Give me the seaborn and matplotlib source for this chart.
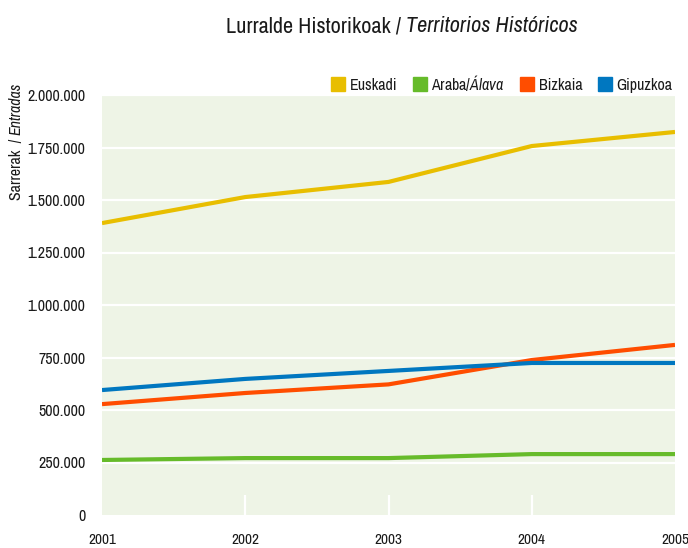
import matplotlib
matplotlib.use("Agg")
import matplotlib.pyplot as plt
import matplotlib.ticker as mticker
from matplotlib.lines import Line2D
import pandas as pd
import seaborn as sns

years = [2001, 2002, 2003, 2004, 2005]
euskadi = [1390000, 1514000, 1586000, 1757000, 1824000]
araba = [262000, 271000, 271000, 290000, 290000]
bizkaia = [528000, 581000, 622000, 738000, 810000]
gipuzkoa = [595000, 648000, 686000, 724000, 724000]

regions = ["Euskadi", "Araba/Álava", "Bizkaia", "Gipuzkoa"]
labels = ["Euskadi", r"Araba/$\it{Álava}$", "Bizkaia", "Gipuzkoa"]
colors = ["#E8BE00", "#66BB2A", "#FF4D00", "#0077C0"]
y_ticks = [0, 250000, 500000, 750000, 1000000, 1250000, 1500000, 1750000, 2000000]

df = pd.DataFrame({
    "year": years * 4,
    "value": euskadi + araba + bizkaia + gipuzkoa,
    "region": [r for r in regions for _ in years],
})

sns.set_theme(style="white")
plt.rcParams["font.family"] = ["Archivo Narrow", "Barlow Condensed", "DejaVu Sans"]
plt.rcParams["mathtext.fontset"] = "custom"
plt.rcParams["mathtext.rm"] = "Archivo Narrow"
plt.rcParams["mathtext.it"] = "Archivo Narrow:italic"
txt_col = "#1a1a1a"

fig = plt.figure(figsize=(6.88, 5.48), dpi=100)
ax = fig.add_axes([102 / 688, 33 / 548, 573 / 688, 420 / 548])
ax.set_facecolor("#EEF4E6")

for y in y_ticks[1:]:
    ax.axhline(y, color="white", lw=1.6, zorder=1)
for x in years[1:-1]:
    ax.axvline(x, ymin=0, ymax=0.048, color="white", lw=1.6, zorder=1)

sns.lineplot(data=df, x="year", y="value", hue="region", palette=dict(zip(regions, colors)),
             linewidth=3, ax=ax, legend=False, zorder=3)
for ln in ax.lines:
    ln.set_solid_capstyle("butt")

ax.set_xlim(2001, 2005)
ax.set_ylim(0, 2000000)
ax.set_xticks(years)
ax.set_yticks(y_ticks)
ax.yaxis.set_major_formatter(mticker.FuncFormatter(lambda v, p: f"{v:,.0f}".replace(",", ".")))
ax.tick_params(axis="both", length=0, labelsize=11.5, colors=txt_col)
ax.tick_params(axis="x", pad=13, labelsize=11)
ax.tick_params(axis="y", pad=12)
ax.set_xlabel("")
ax.set_ylabel("")
for s in ax.spines.values():
    s.set_visible(False)

handles = [Line2D([], [], marker="s", color=c, linestyle="", markersize=10) for c in colors]
ax.legend(handles, labels, loc="lower right", bbox_to_anchor=(1.0, 1.0), ncol=4, frameon=False,
          fontsize=11.5, handletextpad=0.25, columnspacing=1.0, borderaxespad=0.0, borderpad=0.15,
          handlelength=0.9, labelcolor=txt_col)

# title, plain + italic part
t1 = fig.text(226 / 688, 1 - 32 / 548, "Lurralde Historikoak / ", fontsize=16, ha="left",
              va="baseline", color=txt_col)
fig.add_artist(plt.Annotation("Territorios Históricos", xy=(1, 0), xycoords=t1, va="bottom",
                              fontsize=16, style="italic", color=txt_col))

# y label, rotated, plain + italic
y1 = fig.text(16 / 688, 1 - 200 / 548, "Sarrerak  / ", rotation=90, fontsize=11.5, ha="center",
              va="bottom", color=txt_col)
fig.add_artist(plt.Annotation("Entradas", xy=(0.5, 1), xycoords=y1, rotation=90, ha="center",
                              va="bottom", fontsize=11.5, style="italic", color=txt_col))

fig.savefig("out.png", dpi=100)
